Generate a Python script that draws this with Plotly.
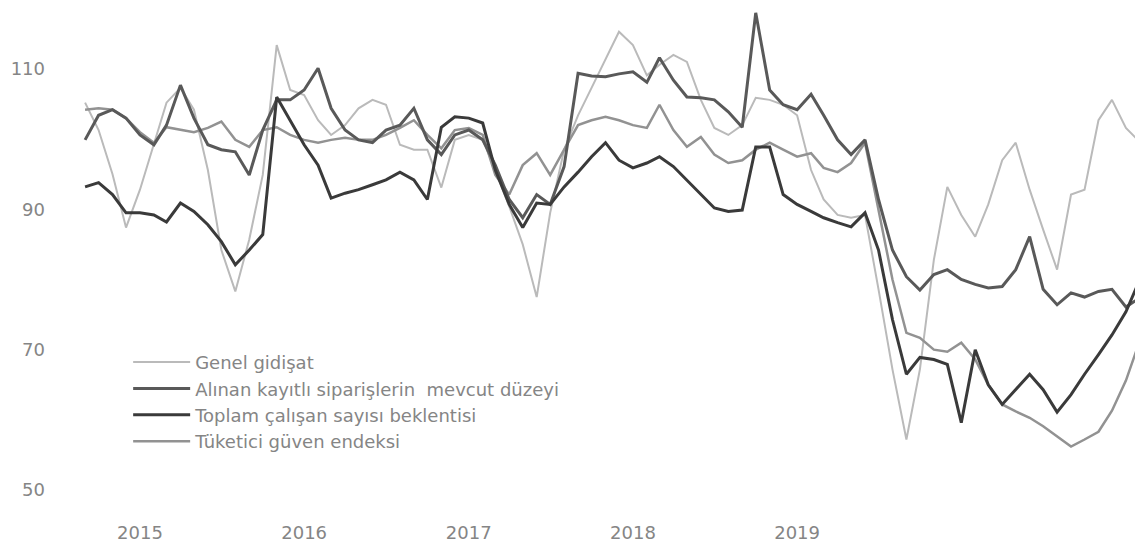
import pandas as pd
import plotly.graph_objects as go

# Monthly observations, Sep 2014 .. Feb 2021
months = pd.date_range("2014-09-01", periods=78, freq="MS")

genel_gidisat = [
    105.2, 101.3, 95.0, 87.4, 92.8, 99.2, 105.2, 107.3, 104.2, 95.6,
    84.2, 78.3, 85.7, 94.9, 113.4, 107.0, 106.3, 102.7, 100.6, 102.0,
    104.4, 105.6, 104.9, 99.2, 98.5, 98.5, 93.1, 99.9, 100.6, 99.9,
    95.6, 90.4, 85.0, 77.5, 89.5, 98.5, 103.4, 107.3, 111.3, 115.3,
    113.4, 109.1, 110.6, 112.0, 111.0, 105.6, 101.6, 100.6, 102.0, 105.9,
    105.6, 104.9, 103.4, 95.6, 91.4, 89.2, 88.8, 89.2, 78.6, 67.2,
    57.2, 67.2, 82.8, 93.2, 89.2, 86.1, 90.7, 97.0, 99.5, 92.8,
    87.1, 81.4, 92.1, 92.8, 102.7, 105.6, 101.6, 99.6,
]

siparis_duzeyi = [
    99.9, 103.4, 104.2, 103.0, 100.6, 99.2, 102.0, 107.7, 103.0, 99.2,
    98.5, 98.2, 94.9, 101.3, 105.6, 105.6, 107.0, 110.1, 104.4, 101.3,
    99.9, 99.5, 101.3, 102.0, 104.4, 99.9, 97.8, 100.6, 101.3, 99.9,
    96.3, 91.4, 88.8, 92.1, 90.7, 96.1, 109.4, 109.0, 108.9, 109.3,
    109.6, 108.1, 111.6, 108.4, 106.0, 105.9, 105.6, 103.9, 101.7, 118.0,
    107.0, 104.9, 104.2, 106.4, 103.4, 99.9, 97.8, 99.9, 91.4, 84.2,
    80.4, 78.5, 80.7, 81.4, 80.0, 79.3, 78.8, 79.0, 81.4, 86.1,
    78.6, 76.4, 78.1, 77.5, 78.3, 78.6, 76.1, 77.4,
]

calisan_beklentisi = [
    93.2, 93.8, 92.1, 89.5, 89.5, 89.2, 88.2, 90.9, 89.7, 87.8,
    85.4, 82.1, 84.2, 86.4, 106.0, 102.7, 99.2, 96.3, 91.6, 92.3,
    92.8, 93.5, 94.2, 95.3, 94.2, 91.4, 101.7, 103.2, 103.0, 102.3,
    95.6, 90.7, 87.4, 90.9, 90.7, 93.2, 95.3, 97.5, 99.5, 97.0,
    95.9, 96.6, 97.5, 96.1, 94.2, 92.1, 90.2, 89.7, 89.9, 98.9,
    98.9, 92.1, 90.7, 89.7, 88.8, 88.1, 87.5, 89.5, 84.2, 74.3,
    66.5, 68.9, 68.6, 67.9, 59.6, 70.0, 65.0, 62.2, 64.3, 66.5,
    64.3, 61.1, 63.6, 66.5, 69.3, 72.1, 75.4, 80.0,
]

tuketici_guven = [
    104.2, 104.4, 104.2, 103.0, 101.0, 99.5, 101.7, 101.3, 101.0, 101.6,
    102.5, 99.9, 98.9, 101.3, 101.7, 100.6, 99.9, 99.5, 99.9, 100.2,
    99.9, 99.9, 100.6, 101.6, 102.7, 100.6, 98.7, 101.3, 101.6, 100.6,
    94.9, 92.1, 96.3, 98.0, 94.9, 98.5, 102.0, 102.7, 103.2, 102.7,
    102.0, 101.6, 104.9, 101.3, 98.9, 100.3, 97.8, 96.6, 97.0, 98.5,
    99.5, 98.5, 97.5, 98.0, 95.9, 95.3, 96.6, 99.5, 89.9, 80.0,
    72.4, 71.7, 70.0, 69.7, 71.0, 68.6, 65.0, 62.2, 61.2, 60.3,
    59.1, 57.7, 56.2, 57.2, 58.3, 61.3, 65.6, 71.3,
]

series_names = [
    "Genel gidişat",
    "Alınan kayıtlı siparişlerin\u00a0\u00a0mevcut düzeyi",
    "Toplam çalışan sayısı beklentisi",
    "Tüketici güven endeksi",
]
series_values = [genel_gidisat, siparis_duzeyi, calisan_beklentisi, tuketici_guven]
series_colors = ["#bababa", "#595959", "#3a3a3a", "#929292"]
series_widths = [2, 3, 3, 2.5]
draw_order = [0, 3, 1, 2]  # light lines underneath, dark lines on top

year_ticks = ["2015-01-01", "2016-01-01", "2017-01-01", "2018-01-01", "2019-01-01"]
year_labels = ["2015", "2016", "2017", "2018", "2019"]
y_ticks = [50, 70, 90, 110]

fig = go.Figure()
for i in draw_order:
    fig.add_trace(go.Scatter(
        x=months, y=series_values[i], mode="lines", name=series_names[i],
        line=dict(color=series_colors[i], width=series_widths[i]),
        legendrank=i + 1,
    ))

fig.update_layout(
    width=1135, height=550,
    margin=dict(l=42, r=0, t=0, b=38),
    paper_bgcolor="white", plot_bgcolor="white",
    font=dict(family="DejaVu Sans", size=18, color="#858585"),
    showlegend=True,
    legend=dict(
        x=0.0715, y=0.344, xanchor="left", yanchor="top",
        bgcolor="rgba(0,0,0,0)", font=dict(size=18, color="#858585"),
        tracegroupgap=0, itemwidth=57,
    ),
    xaxis=dict(
        type="date", range=["2014-06-15", "2021-02-08"],
        tickvals=year_ticks, ticktext=year_labels,
        showgrid=False, zeroline=False, showline=False, ticks="",
        tickfont=dict(size=18, color="#858585"),
    ),
    yaxis=dict(
        range=[45.73, 118.69], tickvals=y_ticks,
        showgrid=False, zeroline=False, showline=False, ticks="",
        tickfont=dict(size=18, color="#858585"), ticklabelstandoff=4,
    ),
)

fig.write_html("out.html")
